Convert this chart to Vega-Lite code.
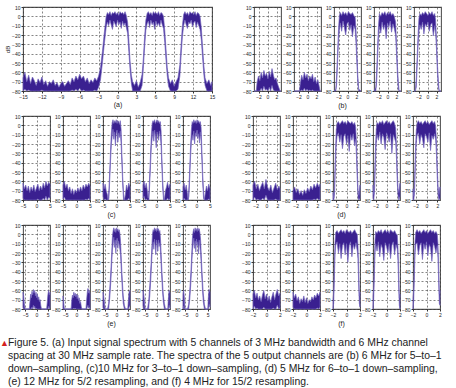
{
"$schema":"https://vega.github.io/schema/vega-lite/v6.json",
"padding":{"left":0,"top":4,"right":0,"bottom":0},
"background":"white",
"config":{
 "font":"Liberation Sans",
 "view":{"stroke":"#555","strokeWidth":1.1},
 "axis":{"labelFontSize":5,"labelColor":"#222","tickSize":2,"tickColor":"#333","labelPadding":1,"domain":false,"grid":true,"gridColor":"#333","gridDash":[2,2],"gridWidth":0.6,"labelOverlap":false,"labelFlush":false,"titleFontWeight":"normal","titleColor":"#222"},
 "title":{"fontSize":7,"fontWeight":"normal","color":"#222","offset":2,"anchor":"middle"},
 "area":{"fill":"#3a2090","stroke":"#7465bd","strokeWidth":0.7}
},
"data":{"values":[
{"p":"a","x":-15,"hi":-66,"lo":-80},{"p":"a","x":-14.7,"hi":-60,"lo":-78},{"p":"a","x":-14.4,"hi":-70,"lo":-80},{"p":"a","x":-14.1,"hi":-63,"lo":-79},{"p":"a","x":-13.8,"hi":-72,"lo":-80},{"p":"a","x":-13.5,"hi":-65,"lo":-80},{"p":"a","x":-13.2,"hi":-69,"lo":-80},{"p":"a","x":-12.9,"hi":-74,"lo":-80},{"p":"a","x":-12.6,"hi":-67,"lo":-80},{"p":"a","x":-12.3,"hi":-71,"lo":-80},{"p":"a","x":-12,"hi":-65,"lo":-79},{"p":"a","x":-11.7,"hi":-73,"lo":-80},{"p":"a","x":-11.4,"hi":-69,"lo":-80},{"p":"a","x":-11.1,"hi":-75,"lo":-80},{"p":"a","x":-10.8,"hi":-70,"lo":-80},{"p":"a","x":-10.5,"hi":-72,"lo":-80},{"p":"a","x":-10.2,"hi":-68,"lo":-80},{"p":"a","x":-9.9,"hi":-74,"lo":-80},{"p":"a","x":-9.6,"hi":-71,"lo":-80},{"p":"a","x":-9.3,"hi":-76,"lo":-80},{"p":"a","x":-9,"hi":-72,"lo":-80},{"p":"a","x":-8.7,"hi":-70,"lo":-80},{"p":"a","x":-8.4,"hi":-75,"lo":-80},{"p":"a","x":-8.1,"hi":-72,"lo":-80},{"p":"a","x":-7.8,"hi":-69,"lo":-80},{"p":"a","x":-7.5,"hi":-73,"lo":-80},{"p":"a","x":-7.2,"hi":-66,"lo":-79},{"p":"a","x":-6.9,"hi":-70,"lo":-80},{"p":"a","x":-6.6,"hi":-64,"lo":-78},{"p":"a","x":-6.3,"hi":-68,"lo":-80},{"p":"a","x":-6,"hi":-62,"lo":-77},{"p":"a","x":-5.7,"hi":-67,"lo":-80},{"p":"a","x":-5.4,"hi":-64,"lo":-79},{"p":"a","x":-5.1,"hi":-70,"lo":-80},{"p":"a","x":-4.8,"hi":-66,"lo":-80},{"p":"a","x":-4.5,"hi":-72,"lo":-80},{"p":"a","x":-4.2,"hi":-68,"lo":-80},{"p":"a","x":-3.9,"hi":-71,"lo":-80},{"p":"a","x":-3.6,"hi":-66,"lo":-79},{"p":"a","x":-3.3,"hi":-69,"lo":-80},{"p":"a","x":-3,"hi":-64,"lo":-76},{"p":"a","x":-2.7,"hi":-55,"lo":-68},{"p":"a","x":-2.4,"hi":-38,"lo":-50},{"p":"a","x":-2.1,"hi":-18,"lo":-30},{"p":"a","x":-1.8,"hi":0,"lo":-12},{"p":"a","x":-1.6,"hi":4,"lo":-6},{"p":"a","x":-1.4,"hi":2,"lo":-10},{"p":"a","x":-1.2,"hi":5,"lo":-4},{"p":"a","x":-1,"hi":1,"lo":-9},{"p":"a","x":-0.8,"hi":4,"lo":-14},{"p":"a","x":-0.6,"hi":3,"lo":-5},{"p":"a","x":-0.4,"hi":5,"lo":-8},{"p":"a","x":-0.2,"hi":2,"lo":-11},{"p":"a","x":0,"hi":4,"lo":-4},{"p":"a","x":0.2,"hi":1,"lo":-9},{"p":"a","x":0.4,"hi":5,"lo":-6},{"p":"a","x":0.6,"hi":3,"lo":-13},{"p":"a","x":0.8,"hi":4,"lo":-5},{"p":"a","x":1,"hi":2,"lo":-10},{"p":"a","x":1.2,"hi":5,"lo":-7},{"p":"a","x":1.4,"hi":1,"lo":-12},{"p":"a","x":1.6,"hi":-6,"lo":-18},{"p":"a","x":1.8,"hi":-25,"lo":-38},{"p":"a","x":2,"hi":-48,"lo":-58},{"p":"a","x":2.2,"hi":-63,"lo":-72},{"p":"a","x":2.4,"hi":-70,"lo":-80},{"p":"a","x":2.7,"hi":-74,"lo":-80},{"p":"a","x":3,"hi":-69,"lo":-80},{"p":"a","x":3.3,"hi":-76,"lo":-80},{"p":"a","x":3.6,"hi":-71,"lo":-80},{"p":"a","x":3.9,"hi":-62,"lo":-74},{"p":"a","x":4.1,"hi":-45,"lo":-56},{"p":"a","x":4.3,"hi":-22,"lo":-34},{"p":"a","x":4.5,"hi":-4,"lo":-15},{"p":"a","x":4.7,"hi":3,"lo":-8},{"p":"a","x":4.9,"hi":5,"lo":-5},{"p":"a","x":5.1,"hi":2,"lo":-12},{"p":"a","x":5.3,"hi":4,"lo":-4},{"p":"a","x":5.5,"hi":1,"lo":-9},{"p":"a","x":5.7,"hi":5,"lo":-6},{"p":"a","x":5.9,"hi":3,"lo":-14},{"p":"a","x":6.1,"hi":4,"lo":-5},{"p":"a","x":6.3,"hi":2,"lo":-10},{"p":"a","x":6.5,"hi":5,"lo":-7},{"p":"a","x":6.7,"hi":1,"lo":-11},{"p":"a","x":6.9,"hi":4,"lo":-4},{"p":"a","x":7.1,"hi":3,"lo":-9},{"p":"a","x":7.3,"hi":0,"lo":-13},{"p":"a","x":7.5,"hi":-15,"lo":-28},{"p":"a","x":7.7,"hi":-35,"lo":-47},{"p":"a","x":7.9,"hi":-55,"lo":-64},{"p":"a","x":8.1,"hi":-66,"lo":-75},{"p":"a","x":8.4,"hi":-72,"lo":-80},{"p":"a","x":8.7,"hi":-68,"lo":-80},{"p":"a","x":9,"hi":-75,"lo":-80},{"p":"a","x":9.3,"hi":-70,"lo":-80},{"p":"a","x":9.6,"hi":-66,"lo":-78},{"p":"a","x":9.9,"hi":-52,"lo":-64},{"p":"a","x":10.1,"hi":-30,"lo":-42},{"p":"a","x":10.3,"hi":-10,"lo":-22},{"p":"a","x":10.5,"hi":2,"lo":-10},{"p":"a","x":10.7,"hi":5,"lo":-4},{"p":"a","x":10.9,"hi":2,"lo":-9},{"p":"a","x":11.1,"hi":4,"lo":-13},{"p":"a","x":11.3,"hi":1,"lo":-6},{"p":"a","x":11.5,"hi":5,"lo":-8},{"p":"a","x":11.7,"hi":3,"lo":-4},{"p":"a","x":11.9,"hi":4,"lo":-11},{"p":"a","x":12.1,"hi":2,"lo":-7},{"p":"a","x":12.3,"hi":5,"lo":-5},{"p":"a","x":12.5,"hi":1,"lo":-12},{"p":"a","x":12.7,"hi":4,"lo":-6},{"p":"a","x":12.9,"hi":3,"lo":-10},{"p":"a","x":13.1,"hi":0,"lo":-14},{"p":"a","x":13.3,"hi":-12,"lo":-25},{"p":"a","x":13.5,"hi":-32,"lo":-44},{"p":"a","x":13.7,"hi":-52,"lo":-62},{"p":"a","x":13.9,"hi":-66,"lo":-74},{"p":"a","x":14.2,"hi":-72,"lo":-80},{"p":"a","x":14.5,"hi":-68,"lo":-80},{"p":"a","x":14.8,"hi":-74,"lo":-80},{"p":"a","x":15,"hi":-70,"lo":-80},
{"p":"b1","x":-3,"hi":-80,"lo":-80},{"p":"b1","x":-2.5,"hi":-80,"lo":-80},{"p":"b1","x":-2.3,"hi":-70,"lo":-80},{"p":"b1","x":-2,"hi":-64,"lo":-80},{"p":"b1","x":-1.7,"hi":-69,"lo":-80},{"p":"b1","x":-1.4,"hi":-60,"lo":-77},{"p":"b1","x":-1.1,"hi":-66,"lo":-80},{"p":"b1","x":-0.8,"hi":-58,"lo":-75},{"p":"b1","x":-0.5,"hi":-64,"lo":-79},{"p":"b1","x":-0.2,"hi":-61,"lo":-78},{"p":"b1","x":0.1,"hi":-67,"lo":-80},{"p":"b1","x":0.4,"hi":-59,"lo":-76},{"p":"b1","x":0.7,"hi":-65,"lo":-80},{"p":"b1","x":1,"hi":-56,"lo":-74},{"p":"b1","x":1.3,"hi":-63,"lo":-79},{"p":"b1","x":1.6,"hi":-68,"lo":-80},{"p":"b1","x":1.9,"hi":-66,"lo":-80},{"p":"b1","x":2.2,"hi":-72,"lo":-80},{"p":"b1","x":2.5,"hi":-76,"lo":-80},{"p":"b1","x":2.8,"hi":-80,"lo":-80},{"p":"b1","x":3,"hi":-80,"lo":-80},
{"p":"b2","x":-3,"hi":-80,"lo":-80},{"p":"b2","x":-1.8,"hi":-80,"lo":-80},{"p":"b2","x":-1.6,"hi":-72,"lo":-80},{"p":"b2","x":-1.3,"hi":-63,"lo":-79},{"p":"b2","x":-1,"hi":-68,"lo":-80},{"p":"b2","x":-0.7,"hi":-60,"lo":-77},{"p":"b2","x":-0.4,"hi":-66,"lo":-80},{"p":"b2","x":-0.1,"hi":-62,"lo":-78},{"p":"b2","x":0.2,"hi":-69,"lo":-80},{"p":"b2","x":0.5,"hi":-64,"lo":-79},{"p":"b2","x":0.8,"hi":-67,"lo":-80},{"p":"b2","x":1.1,"hi":-62,"lo":-79},{"p":"b2","x":1.4,"hi":-70,"lo":-80},{"p":"b2","x":1.7,"hi":-65,"lo":-80},{"p":"b2","x":2,"hi":-72,"lo":-80},{"p":"b2","x":2.3,"hi":-68,"lo":-80},{"p":"b2","x":2.6,"hi":-75,"lo":-80},{"p":"b2","x":2.8,"hi":-80,"lo":-80},{"p":"b2","x":3,"hi":-80,"lo":-80},
{"p":"b3","x":-3,"hi":-80,"lo":-80},{"p":"b3","x":-2.6,"hi":-78,"lo":-80},{"p":"b3","x":-2.4,"hi":-62,"lo":-72},{"p":"b3","x":-2.2,"hi":-38,"lo":-48},{"p":"b3","x":-2,"hi":-14,"lo":-26},{"p":"b3","x":-1.8,"hi":1,"lo":-14},{"p":"b3","x":-1.6,"hi":4,"lo":-7},{"p":"b3","x":-1.3,"hi":1,"lo":-16},{"p":"b3","x":-1,"hi":5,"lo":-5},{"p":"b3","x":-0.7,"hi":2,"lo":-12},{"p":"b3","x":-0.4,"hi":4,"lo":-20},{"p":"b3","x":-0.1,"hi":1,"lo":-8},{"p":"b3","x":0.2,"hi":5,"lo":-6},{"p":"b3","x":0.5,"hi":3,"lo":-15},{"p":"b3","x":0.8,"hi":2,"lo":-9},{"p":"b3","x":1.1,"hi":4,"lo":-22},{"p":"b3","x":1.4,"hi":1,"lo":-10},{"p":"b3","x":1.7,"hi":-1,"lo":-14},{"p":"b3","x":1.9,"hi":-15,"lo":-30},{"p":"b3","x":2.1,"hi":-40,"lo":-52},{"p":"b3","x":2.3,"hi":-64,"lo":-72},{"p":"b3","x":2.5,"hi":-78,"lo":-80},{"p":"b3","x":3,"hi":-80,"lo":-80},
{"p":"b4","x":-3,"hi":-80,"lo":-80},{"p":"b4","x":-2.6,"hi":-76,"lo":-80},{"p":"b4","x":-2.4,"hi":-58,"lo":-70},{"p":"b4","x":-2.2,"hi":-32,"lo":-45},{"p":"b4","x":-2,"hi":-10,"lo":-22},{"p":"b4","x":-1.8,"hi":3,"lo":-11},{"p":"b4","x":-1.5,"hi":0,"lo":-18},{"p":"b4","x":-1.2,"hi":4,"lo":-6},{"p":"b4","x":-0.9,"hi":2,"lo":-14},{"p":"b4","x":-0.6,"hi":5,"lo":-9},{"p":"b4","x":-0.3,"hi":1,"lo":-24},{"p":"b4","x":0,"hi":4,"lo":-7},{"p":"b4","x":0.3,"hi":2,"lo":-12},{"p":"b4","x":0.6,"hi":5,"lo":-5},{"p":"b4","x":0.9,"hi":1,"lo":-17},{"p":"b4","x":1.2,"hi":3,"lo":-8},{"p":"b4","x":1.5,"hi":0,"lo":-13},{"p":"b4","x":1.8,"hi":-6,"lo":-20},{"p":"b4","x":2,"hi":-28,"lo":-40},{"p":"b4","x":2.2,"hi":-52,"lo":-62},{"p":"b4","x":2.4,"hi":-70,"lo":-78},{"p":"b4","x":2.6,"hi":-80,"lo":-80},{"p":"b4","x":3,"hi":-80,"lo":-80},
{"p":"b5","x":-3,"hi":-80,"lo":-80},{"p":"b5","x":-2.7,"hi":-80,"lo":-80},{"p":"b5","x":-2.5,"hi":-66,"lo":-76},{"p":"b5","x":-2.3,"hi":-44,"lo":-54},{"p":"b5","x":-2.1,"hi":-20,"lo":-32},{"p":"b5","x":-1.9,"hi":-2,"lo":-16},{"p":"b5","x":-1.7,"hi":3,"lo":-9},{"p":"b5","x":-1.4,"hi":1,"lo":-14},{"p":"b5","x":-1.1,"hi":4,"lo":-6},{"p":"b5","x":-0.8,"hi":2,"lo":-19},{"p":"b5","x":-0.5,"hi":5,"lo":-8},{"p":"b5","x":-0.2,"hi":3,"lo":-11},{"p":"b5","x":0.1,"hi":1,"lo":-6},{"p":"b5","x":0.4,"hi":4,"lo":-16},{"p":"b5","x":0.7,"hi":2,"lo":-9},{"p":"b5","x":1,"hi":5,"lo":-7},{"p":"b5","x":1.3,"hi":1,"lo":-21},{"p":"b5","x":1.6,"hi":3,"lo":-10},{"p":"b5","x":1.8,"hi":-4,"lo":-18},{"p":"b5","x":2,"hi":-24,"lo":-36},{"p":"b5","x":2.2,"hi":-50,"lo":-60},{"p":"b5","x":2.4,"hi":-68,"lo":-76},{"p":"b5","x":2.6,"hi":-80,"lo":-80},{"p":"b5","x":3,"hi":-80,"lo":-80},
{"p":"c1","x":-5,"hi":-62,"lo":-78},{"p":"c1","x":-4.5,"hi":-68,"lo":-80},{"p":"c1","x":-4,"hi":-64,"lo":-80},{"p":"c1","x":-3.5,"hi":-70,"lo":-80},{"p":"c1","x":-3,"hi":-65,"lo":-80},{"p":"c1","x":-2.5,"hi":-72,"lo":-80},{"p":"c1","x":-2,"hi":-66,"lo":-80},{"p":"c1","x":-1.5,"hi":-70,"lo":-80},{"p":"c1","x":-1,"hi":-64,"lo":-80},{"p":"c1","x":-0.5,"hi":-71,"lo":-80},{"p":"c1","x":0,"hi":-67,"lo":-80},{"p":"c1","x":0.5,"hi":-63,"lo":-79},{"p":"c1","x":1,"hi":-70,"lo":-80},{"p":"c1","x":1.5,"hi":-65,"lo":-80},{"p":"c1","x":2,"hi":-69,"lo":-80},{"p":"c1","x":2.5,"hi":-62,"lo":-78},{"p":"c1","x":3,"hi":-67,"lo":-80},{"p":"c1","x":3.5,"hi":-60,"lo":-76},{"p":"c1","x":4,"hi":-65,"lo":-80},{"p":"c1","x":4.5,"hi":-61,"lo":-77},{"p":"c1","x":5,"hi":-63,"lo":-78},
{"p":"c2","x":-5,"hi":-64,"lo":-79},{"p":"c2","x":-4.5,"hi":-60,"lo":-77},{"p":"c2","x":-4,"hi":-67,"lo":-80},{"p":"c2","x":-3.5,"hi":-63,"lo":-80},{"p":"c2","x":-3,"hi":-70,"lo":-80},{"p":"c2","x":-2.5,"hi":-66,"lo":-80},{"p":"c2","x":-2,"hi":-73,"lo":-80},{"p":"c2","x":-1.5,"hi":-68,"lo":-80},{"p":"c2","x":-1,"hi":-74,"lo":-80},{"p":"c2","x":-0.5,"hi":-69,"lo":-80},{"p":"c2","x":0,"hi":-72,"lo":-80},{"p":"c2","x":0.5,"hi":-67,"lo":-80},{"p":"c2","x":1,"hi":-71,"lo":-80},{"p":"c2","x":1.5,"hi":-66,"lo":-80},{"p":"c2","x":2,"hi":-70,"lo":-80},{"p":"c2","x":2.5,"hi":-64,"lo":-80},{"p":"c2","x":3,"hi":-68,"lo":-80},{"p":"c2","x":3.5,"hi":-63,"lo":-79},{"p":"c2","x":4,"hi":-66,"lo":-80},{"p":"c2","x":4.5,"hi":-62,"lo":-78},{"p":"c2","x":5,"hi":-65,"lo":-80},
{"p":"c3","x":-5,"hi":-62,"lo":-76},{"p":"c3","x":-4.6,"hi":-68,"lo":-80},{"p":"c3","x":-4.2,"hi":-63,"lo":-79},{"p":"c3","x":-3.8,"hi":-70,"lo":-80},{"p":"c3","x":-3.4,"hi":-74,"lo":-80},{"p":"c3","x":-3.1,"hi":-80,"lo":-80},{"p":"c3","x":-2.8,"hi":-68,"lo":-78},{"p":"c3","x":-2.5,"hi":-48,"lo":-58},{"p":"c3","x":-2.2,"hi":-26,"lo":-38},{"p":"c3","x":-1.9,"hi":-8,"lo":-20},{"p":"c3","x":-1.6,"hi":3,"lo":-12},{"p":"c3","x":-1.3,"hi":6,"lo":-4},{"p":"c3","x":-1,"hi":2,"lo":-15},{"p":"c3","x":-0.7,"hi":5,"lo":-7},{"p":"c3","x":-0.4,"hi":3,"lo":-22},{"p":"c3","x":-0.1,"hi":6,"lo":-9},{"p":"c3","x":0.2,"hi":2,"lo":-5},{"p":"c3","x":0.5,"hi":5,"lo":-18},{"p":"c3","x":0.8,"hi":4,"lo":-8},{"p":"c3","x":1.1,"hi":1,"lo":-13},{"p":"c3","x":1.4,"hi":5,"lo":-6},{"p":"c3","x":1.7,"hi":-4,"lo":-20},{"p":"c3","x":2,"hi":-30,"lo":-42},{"p":"c3","x":2.3,"hi":-55,"lo":-64},{"p":"c3","x":2.6,"hi":-72,"lo":-80},{"p":"c3","x":2.9,"hi":-80,"lo":-80},{"p":"c3","x":3.3,"hi":-74,"lo":-80},{"p":"c3","x":3.7,"hi":-64,"lo":-80},{"p":"c3","x":4.1,"hi":-69,"lo":-80},{"p":"c3","x":4.5,"hi":-62,"lo":-78},{"p":"c3","x":5,"hi":-66,"lo":-80},
{"p":"c4","x":-5,"hi":-64,"lo":-78},{"p":"c4","x":-4.6,"hi":-60,"lo":-76},{"p":"c4","x":-4.2,"hi":-67,"lo":-80},{"p":"c4","x":-3.8,"hi":-62,"lo":-79},{"p":"c4","x":-3.4,"hi":-70,"lo":-80},{"p":"c4","x":-3.1,"hi":-78,"lo":-80},{"p":"c4","x":-2.8,"hi":-70,"lo":-80},{"p":"c4","x":-2.5,"hi":-52,"lo":-62},{"p":"c4","x":-2.2,"hi":-30,"lo":-42},{"p":"c4","x":-1.9,"hi":-10,"lo":-22},{"p":"c4","x":-1.6,"hi":2,"lo":-14},{"p":"c4","x":-1.3,"hi":5,"lo":-6},{"p":"c4","x":-1,"hi":3,"lo":-17},{"p":"c4","x":-0.7,"hi":6,"lo":-5},{"p":"c4","x":-0.4,"hi":2,"lo":-12},{"p":"c4","x":-0.1,"hi":4,"lo":-24},{"p":"c4","x":0.2,"hi":6,"lo":-7},{"p":"c4","x":0.5,"hi":3,"lo":-10},{"p":"c4","x":0.8,"hi":5,"lo":-16},{"p":"c4","x":1.1,"hi":2,"lo":-6},{"p":"c4","x":1.4,"hi":4,"lo":-11},{"p":"c4","x":1.7,"hi":-6,"lo":-22},{"p":"c4","x":2,"hi":-34,"lo":-46},{"p":"c4","x":2.3,"hi":-58,"lo":-68},{"p":"c4","x":2.6,"hi":-75,"lo":-80},{"p":"c4","x":2.9,"hi":-80,"lo":-80},{"p":"c4","x":3.3,"hi":-70,"lo":-80},{"p":"c4","x":3.7,"hi":-66,"lo":-80},{"p":"c4","x":4.1,"hi":-61,"lo":-78},{"p":"c4","x":4.5,"hi":-67,"lo":-80},{"p":"c4","x":5,"hi":-63,"lo":-79},
{"p":"c5","x":-5,"hi":-66,"lo":-80},{"p":"c5","x":-4.6,"hi":-62,"lo":-78},{"p":"c5","x":-4.2,"hi":-69,"lo":-80},{"p":"c5","x":-3.8,"hi":-64,"lo":-80},{"p":"c5","x":-3.4,"hi":-72,"lo":-80},{"p":"c5","x":-3.1,"hi":-80,"lo":-80},{"p":"c5","x":-2.8,"hi":-66,"lo":-76},{"p":"c5","x":-2.5,"hi":-45,"lo":-56},{"p":"c5","x":-2.2,"hi":-22,"lo":-34},{"p":"c5","x":-1.9,"hi":-5,"lo":-18},{"p":"c5","x":-1.6,"hi":4,"lo":-10},{"p":"c5","x":-1.3,"hi":2,"lo":-16},{"p":"c5","x":-1,"hi":6,"lo":-6},{"p":"c5","x":-0.7,"hi":3,"lo":-20},{"p":"c5","x":-0.4,"hi":5,"lo":-8},{"p":"c5","x":-0.1,"hi":2,"lo":-12},{"p":"c5","x":0.2,"hi":6,"lo":-5},{"p":"c5","x":0.5,"hi":3,"lo":-14},{"p":"c5","x":0.8,"hi":5,"lo":-9},{"p":"c5","x":1.1,"hi":2,"lo":-19},{"p":"c5","x":1.4,"hi":4,"lo":-7},{"p":"c5","x":1.7,"hi":-2,"lo":-17},{"p":"c5","x":2,"hi":-26,"lo":-38},{"p":"c5","x":2.3,"hi":-52,"lo":-62},{"p":"c5","x":2.6,"hi":-70,"lo":-78},{"p":"c5","x":2.9,"hi":-80,"lo":-80},{"p":"c5","x":3.3,"hi":-72,"lo":-80},{"p":"c5","x":3.7,"hi":-65,"lo":-80},{"p":"c5","x":4.1,"hi":-70,"lo":-80},{"p":"c5","x":4.5,"hi":-63,"lo":-79},{"p":"c5","x":5,"hi":-68,"lo":-80},
{"p":"d1","x":-2.5,"hi":-64,"lo":-80},{"p":"d1","x":-2.2,"hi":-60,"lo":-77},{"p":"d1","x":-1.9,"hi":-68,"lo":-80},{"p":"d1","x":-1.6,"hi":-63,"lo":-79},{"p":"d1","x":-1.3,"hi":-70,"lo":-80},{"p":"d1","x":-1,"hi":-65,"lo":-80},{"p":"d1","x":-0.7,"hi":-61,"lo":-78},{"p":"d1","x":-0.4,"hi":-68,"lo":-80},{"p":"d1","x":-0.1,"hi":-58,"lo":-75},{"p":"d1","x":0.2,"hi":-66,"lo":-80},{"p":"d1","x":0.5,"hi":-70,"lo":-80},{"p":"d1","x":0.8,"hi":-64,"lo":-80},{"p":"d1","x":1.1,"hi":-72,"lo":-80},{"p":"d1","x":1.4,"hi":-67,"lo":-80},{"p":"d1","x":1.7,"hi":-62,"lo":-79},{"p":"d1","x":2,"hi":-69,"lo":-80},{"p":"d1","x":2.3,"hi":-65,"lo":-80},{"p":"d1","x":2.5,"hi":-68,"lo":-80},
{"p":"d2","x":-2.5,"hi":-70,"lo":-80},{"p":"d2","x":-2.2,"hi":-66,"lo":-80},{"p":"d2","x":-1.9,"hi":-72,"lo":-80},{"p":"d2","x":-1.6,"hi":-68,"lo":-80},{"p":"d2","x":-1.3,"hi":-74,"lo":-80},{"p":"d2","x":-1,"hi":-70,"lo":-80},{"p":"d2","x":-0.7,"hi":-75,"lo":-80},{"p":"d2","x":-0.4,"hi":-69,"lo":-80},{"p":"d2","x":-0.1,"hi":-73,"lo":-80},{"p":"d2","x":0.2,"hi":-67,"lo":-80},{"p":"d2","x":0.5,"hi":-71,"lo":-80},{"p":"d2","x":0.8,"hi":-65,"lo":-80},{"p":"d2","x":1.1,"hi":-69,"lo":-80},{"p":"d2","x":1.4,"hi":-63,"lo":-79},{"p":"d2","x":1.7,"hi":-67,"lo":-80},{"p":"d2","x":2,"hi":-62,"lo":-78},{"p":"d2","x":2.3,"hi":-66,"lo":-80},{"p":"d2","x":2.5,"hi":-63,"lo":-79},
{"p":"d3","x":-2.5,"hi":-72,"lo":-80},{"p":"d3","x":-2.35,"hi":-78,"lo":-80},{"p":"d3","x":-2.2,"hi":-60,"lo":-72},{"p":"d3","x":-2.05,"hi":-30,"lo":-42},{"p":"d3","x":-1.9,"hi":-5,"lo":-20},{"p":"d3","x":-1.75,"hi":2,"lo":-12},{"p":"d3","x":-1.5,"hi":4,"lo":-8},{"p":"d3","x":-1.25,"hi":1,"lo":-18},{"p":"d3","x":-1,"hi":3,"lo":-10},{"p":"d3","x":-0.75,"hi":5,"lo":-25},{"p":"d3","x":-0.5,"hi":2,"lo":-12},{"p":"d3","x":-0.25,"hi":4,"lo":-9},{"p":"d3","x":0,"hi":1,"lo":-20},{"p":"d3","x":0.25,"hi":5,"lo":-11},{"p":"d3","x":0.5,"hi":3,"lo":-28},{"p":"d3","x":0.75,"hi":2,"lo":-10},{"p":"d3","x":1,"hi":4,"lo":-16},{"p":"d3","x":1.25,"hi":1,"lo":-9},{"p":"d3","x":1.5,"hi":3,"lo":-22},{"p":"d3","x":1.7,"hi":-2,"lo":-15},{"p":"d3","x":1.85,"hi":-20,"lo":-34},{"p":"d3","x":2,"hi":-48,"lo":-60},{"p":"d3","x":2.15,"hi":-70,"lo":-78},{"p":"d3","x":2.3,"hi":-75,"lo":-80},{"p":"d3","x":2.5,"hi":-64,"lo":-78},
{"p":"d4","x":-2.5,"hi":-64,"lo":-78},{"p":"d4","x":-2.35,"hi":-74,"lo":-80},{"p":"d4","x":-2.2,"hi":-55,"lo":-68},{"p":"d4","x":-2.05,"hi":-26,"lo":-40},{"p":"d4","x":-1.9,"hi":-4,"lo":-18},{"p":"d4","x":-1.75,"hi":3,"lo":-10},{"p":"d4","x":-1.5,"hi":1,"lo":-16},{"p":"d4","x":-1.25,"hi":4,"lo":-7},{"p":"d4","x":-1,"hi":2,"lo":-20},{"p":"d4","x":-0.75,"hi":5,"lo":-9},{"p":"d4","x":-0.5,"hi":1,"lo":-13},{"p":"d4","x":-0.25,"hi":3,"lo":-26},{"p":"d4","x":0,"hi":5,"lo":-8},{"p":"d4","x":0.25,"hi":2,"lo":-12},{"p":"d4","x":0.5,"hi":4,"lo":-18},{"p":"d4","x":0.75,"hi":1,"lo":-9},{"p":"d4","x":1,"hi":3,"lo":-30},{"p":"d4","x":1.25,"hi":5,"lo":-10},{"p":"d4","x":1.5,"hi":2,"lo":-14},{"p":"d4","x":1.7,"hi":-3,"lo":-18},{"p":"d4","x":1.85,"hi":-22,"lo":-36},{"p":"d4","x":2,"hi":-50,"lo":-62},{"p":"d4","x":2.15,"hi":-68,"lo":-76},{"p":"d4","x":2.3,"hi":-72,"lo":-80},{"p":"d4","x":2.5,"hi":-62,"lo":-76},
{"p":"d5","x":-2.5,"hi":-68,"lo":-80},{"p":"d5","x":-2.35,"hi":-76,"lo":-80},{"p":"d5","x":-2.2,"hi":-58,"lo":-70},{"p":"d5","x":-2.05,"hi":-28,"lo":-40},{"p":"d5","x":-1.9,"hi":-6,"lo":-19},{"p":"d5","x":-1.75,"hi":2,"lo":-11},{"p":"d5","x":-1.5,"hi":5,"lo":-8},{"p":"d5","x":-1.25,"hi":2,"lo":-20},{"p":"d5","x":-1,"hi":4,"lo":-10},{"p":"d5","x":-0.75,"hi":1,"lo":-14},{"p":"d5","x":-0.5,"hi":3,"lo":-24},{"p":"d5","x":-0.25,"hi":5,"lo":-9},{"p":"d5","x":0,"hi":2,"lo":-12},{"p":"d5","x":0.25,"hi":4,"lo":-18},{"p":"d5","x":0.5,"hi":1,"lo":-8},{"p":"d5","x":0.75,"hi":3,"lo":-27},{"p":"d5","x":1,"hi":5,"lo":-11},{"p":"d5","x":1.25,"hi":2,"lo":-15},{"p":"d5","x":1.5,"hi":4,"lo":-9},{"p":"d5","x":1.7,"hi":-1,"lo":-16},{"p":"d5","x":1.85,"hi":-18,"lo":-32},{"p":"d5","x":2,"hi":-46,"lo":-58},{"p":"d5","x":2.15,"hi":-66,"lo":-75},{"p":"d5","x":2.3,"hi":-74,"lo":-80},{"p":"d5","x":2.5,"hi":-66,"lo":-78},
{"p":"e1","x":-6,"hi":-62,"lo":-78},{"p":"e1","x":-5.7,"hi":-66,"lo":-80},{"p":"e1","x":-5.4,"hi":-74,"lo":-80},{"p":"e1","x":-5.1,"hi":-80,"lo":-80},{"p":"e1","x":-3.2,"hi":-80,"lo":-80},{"p":"e1","x":-2.9,"hi":-72,"lo":-80},{"p":"e1","x":-2.6,"hi":-64,"lo":-80},{"p":"e1","x":-2.3,"hi":-68,"lo":-80},{"p":"e1","x":-2,"hi":-61,"lo":-78},{"p":"e1","x":-1.7,"hi":-65,"lo":-80},{"p":"e1","x":-1.4,"hi":-59,"lo":-76},{"p":"e1","x":-1.1,"hi":-63,"lo":-79},{"p":"e1","x":-0.8,"hi":-60,"lo":-77},{"p":"e1","x":-0.5,"hi":-66,"lo":-80},{"p":"e1","x":-0.2,"hi":-62,"lo":-79},{"p":"e1","x":0.1,"hi":-68,"lo":-80},{"p":"e1","x":0.4,"hi":-64,"lo":-80},{"p":"e1","x":0.7,"hi":-70,"lo":-80},{"p":"e1","x":1,"hi":-67,"lo":-80},{"p":"e1","x":1.3,"hi":-72,"lo":-80},{"p":"e1","x":1.6,"hi":-70,"lo":-80},{"p":"e1","x":1.9,"hi":-76,"lo":-80},{"p":"e1","x":2.2,"hi":-80,"lo":-80},{"p":"e1","x":4.5,"hi":-80,"lo":-80},{"p":"e1","x":4.8,"hi":-72,"lo":-80},{"p":"e1","x":5.1,"hi":-64,"lo":-80},{"p":"e1","x":5.4,"hi":-60,"lo":-77},{"p":"e1","x":5.7,"hi":-65,"lo":-80},{"p":"e1","x":6,"hi":-62,"lo":-78},
{"p":"e2","x":-6,"hi":-66,"lo":-80},{"p":"e2","x":-5.7,"hi":-72,"lo":-80},{"p":"e2","x":-5.4,"hi":-80,"lo":-80},{"p":"e2","x":-2.4,"hi":-80,"lo":-80},{"p":"e2","x":-2.1,"hi":-70,"lo":-80},{"p":"e2","x":-1.8,"hi":-65,"lo":-80},{"p":"e2","x":-1.5,"hi":-68,"lo":-80},{"p":"e2","x":-1.2,"hi":-62,"lo":-79},{"p":"e2","x":-0.9,"hi":-66,"lo":-80},{"p":"e2","x":-0.6,"hi":-63,"lo":-79},{"p":"e2","x":-0.3,"hi":-67,"lo":-80},{"p":"e2","x":0,"hi":-64,"lo":-80},{"p":"e2","x":0.3,"hi":-69,"lo":-80},{"p":"e2","x":0.6,"hi":-65,"lo":-80},{"p":"e2","x":0.9,"hi":-71,"lo":-80},{"p":"e2","x":1.2,"hi":-68,"lo":-80},{"p":"e2","x":1.5,"hi":-74,"lo":-80},{"p":"e2","x":1.8,"hi":-72,"lo":-80},{"p":"e2","x":2.1,"hi":-77,"lo":-80},{"p":"e2","x":2.4,"hi":-80,"lo":-80},{"p":"e2","x":4.2,"hi":-80,"lo":-80},{"p":"e2","x":4.5,"hi":-70,"lo":-80},{"p":"e2","x":4.8,"hi":-62,"lo":-78},{"p":"e2","x":5.1,"hi":-58,"lo":-76},{"p":"e2","x":5.4,"hi":-63,"lo":-79},{"p":"e2","x":5.7,"hi":-60,"lo":-78},{"p":"e2","x":6,"hi":-64,"lo":-80},
{"p":"e3","x":-6,"hi":-62,"lo":-78},{"p":"e3","x":-5.7,"hi":-66,"lo":-80},{"p":"e3","x":-5.4,"hi":-72,"lo":-80},{"p":"e3","x":-5.1,"hi":-80,"lo":-80},{"p":"e3","x":-4,"hi":-80,"lo":-80},{"p":"e3","x":-3.5,"hi":-74,"lo":-80},{"p":"e3","x":-3,"hi":-58,"lo":-68},{"p":"e3","x":-2.5,"hi":-38,"lo":-50},{"p":"e3","x":-2.1,"hi":-18,"lo":-30},{"p":"e3","x":-1.8,"hi":-2,"lo":-16},{"p":"e3","x":-1.5,"hi":4,"lo":-10},{"p":"e3","x":-1.2,"hi":7,"lo":-3},{"p":"e3","x":-0.9,"hi":3,"lo":-14},{"p":"e3","x":-0.6,"hi":6,"lo":-6},{"p":"e3","x":-0.3,"hi":2,"lo":-20},{"p":"e3","x":0,"hi":7,"lo":-8},{"p":"e3","x":0.3,"hi":4,"lo":-4},{"p":"e3","x":0.6,"hi":6,"lo":-15},{"p":"e3","x":0.9,"hi":3,"lo":-7},{"p":"e3","x":1.2,"hi":5,"lo":-11},{"p":"e3","x":1.5,"hi":1,"lo":-16},{"p":"e3","x":1.8,"hi":-8,"lo":-22},{"p":"e3","x":2.2,"hi":-30,"lo":-42},{"p":"e3","x":2.6,"hi":-50,"lo":-60},{"p":"e3","x":3,"hi":-66,"lo":-74},{"p":"e3","x":3.5,"hi":-76,"lo":-80},{"p":"e3","x":4,"hi":-80,"lo":-80},{"p":"e3","x":5,"hi":-80,"lo":-80},{"p":"e3","x":5.3,"hi":-70,"lo":-80},{"p":"e3","x":5.6,"hi":-62,"lo":-78},{"p":"e3","x":6,"hi":-60,"lo":-76},
{"p":"e4","x":-6,"hi":-60,"lo":-76},{"p":"e4","x":-5.7,"hi":-64,"lo":-80},{"p":"e4","x":-5.4,"hi":-70,"lo":-80},{"p":"e4","x":-5.1,"hi":-80,"lo":-80},{"p":"e4","x":-4,"hi":-80,"lo":-80},{"p":"e4","x":-3.5,"hi":-72,"lo":-80},{"p":"e4","x":-3,"hi":-55,"lo":-66},{"p":"e4","x":-2.5,"hi":-35,"lo":-47},{"p":"e4","x":-2.1,"hi":-15,"lo":-27},{"p":"e4","x":-1.8,"hi":0,"lo":-14},{"p":"e4","x":-1.5,"hi":5,"lo":-8},{"p":"e4","x":-1.2,"hi":3,"lo":-16},{"p":"e4","x":-0.9,"hi":7,"lo":-5},{"p":"e4","x":-0.6,"hi":4,"lo":-12},{"p":"e4","x":-0.3,"hi":6,"lo":-22},{"p":"e4","x":0,"hi":3,"lo":-6},{"p":"e4","x":0.3,"hi":7,"lo":-10},{"p":"e4","x":0.6,"hi":4,"lo":-18},{"p":"e4","x":0.9,"hi":6,"lo":-6},{"p":"e4","x":1.2,"hi":2,"lo":-13},{"p":"e4","x":1.5,"hi":4,"lo":-9},{"p":"e4","x":1.8,"hi":-6,"lo":-20},{"p":"e4","x":2.2,"hi":-28,"lo":-40},{"p":"e4","x":2.6,"hi":-48,"lo":-58},{"p":"e4","x":3,"hi":-64,"lo":-72},{"p":"e4","x":3.5,"hi":-74,"lo":-80},{"p":"e4","x":4,"hi":-80,"lo":-80},{"p":"e4","x":5,"hi":-80,"lo":-80},{"p":"e4","x":5.3,"hi":-68,"lo":-80},{"p":"e4","x":5.6,"hi":-60,"lo":-76},{"p":"e4","x":6,"hi":-63,"lo":-79},
{"p":"e5","x":-6,"hi":-64,"lo":-80},{"p":"e5","x":-5.7,"hi":-60,"lo":-77},{"p":"e5","x":-5.4,"hi":-68,"lo":-80},{"p":"e5","x":-5.1,"hi":-80,"lo":-80},{"p":"e5","x":-4,"hi":-80,"lo":-80},{"p":"e5","x":-3.5,"hi":-75,"lo":-80},{"p":"e5","x":-3,"hi":-60,"lo":-70},{"p":"e5","x":-2.5,"hi":-40,"lo":-52},{"p":"e5","x":-2.1,"hi":-20,"lo":-32},{"p":"e5","x":-1.8,"hi":-3,"lo":-17},{"p":"e5","x":-1.5,"hi":3,"lo":-11},{"p":"e5","x":-1.2,"hi":6,"lo":-4},{"p":"e5","x":-0.9,"hi":2,"lo":-15},{"p":"e5","x":-0.6,"hi":7,"lo":-7},{"p":"e5","x":-0.3,"hi":4,"lo":-19},{"p":"e5","x":0,"hi":6,"lo":-5},{"p":"e5","x":0.3,"hi":3,"lo":-12},{"p":"e5","x":0.6,"hi":7,"lo":-8},{"p":"e5","x":0.9,"hi":4,"lo":-21},{"p":"e5","x":1.2,"hi":6,"lo":-6},{"p":"e5","x":1.5,"hi":2,"lo":-13},{"p":"e5","x":1.8,"hi":-5,"lo":-19},{"p":"e5","x":2.2,"hi":-26,"lo":-38},{"p":"e5","x":2.6,"hi":-47,"lo":-57},{"p":"e5","x":3,"hi":-63,"lo":-72},{"p":"e5","x":3.5,"hi":-75,"lo":-80},{"p":"e5","x":4,"hi":-80,"lo":-80},{"p":"e5","x":5,"hi":-80,"lo":-80},{"p":"e5","x":5.3,"hi":-66,"lo":-80},{"p":"e5","x":5.6,"hi":-59,"lo":-75},{"p":"e5","x":6,"hi":-62,"lo":-78},
{"p":"f1","x":-2,"hi":-64,"lo":-80},{"p":"f1","x":-1.8,"hi":-60,"lo":-77},{"p":"f1","x":-1.6,"hi":-68,"lo":-80},{"p":"f1","x":-1.4,"hi":-63,"lo":-79},{"p":"f1","x":-1.2,"hi":-70,"lo":-80},{"p":"f1","x":-1,"hi":-66,"lo":-80},{"p":"f1","x":-0.8,"hi":-72,"lo":-80},{"p":"f1","x":-0.6,"hi":-65,"lo":-80},{"p":"f1","x":-0.4,"hi":-60,"lo":-78},{"p":"f1","x":-0.2,"hi":-69,"lo":-80},{"p":"f1","x":0,"hi":-64,"lo":-80},{"p":"f1","x":0.2,"hi":-71,"lo":-80},{"p":"f1","x":0.4,"hi":-66,"lo":-80},{"p":"f1","x":0.6,"hi":-73,"lo":-80},{"p":"f1","x":0.8,"hi":-67,"lo":-80},{"p":"f1","x":1,"hi":-62,"lo":-79},{"p":"f1","x":1.2,"hi":-70,"lo":-80},{"p":"f1","x":1.4,"hi":-64,"lo":-80},{"p":"f1","x":1.6,"hi":-59,"lo":-76},{"p":"f1","x":1.8,"hi":-66,"lo":-80},{"p":"f1","x":2,"hi":-63,"lo":-79},
{"p":"f2","x":-2,"hi":-62,"lo":-78},{"p":"f2","x":-1.8,"hi":-68,"lo":-80},{"p":"f2","x":-1.6,"hi":-64,"lo":-80},{"p":"f2","x":-1.4,"hi":-71,"lo":-80},{"p":"f2","x":-1.2,"hi":-67,"lo":-80},{"p":"f2","x":-1,"hi":-74,"lo":-80},{"p":"f2","x":-0.8,"hi":-69,"lo":-80},{"p":"f2","x":-0.6,"hi":-72,"lo":-80},{"p":"f2","x":-0.4,"hi":-66,"lo":-80},{"p":"f2","x":-0.2,"hi":-73,"lo":-80},{"p":"f2","x":0,"hi":-68,"lo":-80},{"p":"f2","x":0.2,"hi":-74,"lo":-80},{"p":"f2","x":0.4,"hi":-70,"lo":-80},{"p":"f2","x":0.6,"hi":-72,"lo":-80},{"p":"f2","x":0.8,"hi":-67,"lo":-80},{"p":"f2","x":1,"hi":-70,"lo":-80},{"p":"f2","x":1.2,"hi":-65,"lo":-80},{"p":"f2","x":1.4,"hi":-68,"lo":-80},{"p":"f2","x":1.6,"hi":-63,"lo":-79},{"p":"f2","x":1.8,"hi":-66,"lo":-80},{"p":"f2","x":2,"hi":-62,"lo":-78},
{"p":"f3","x":-2,"hi":-70,"lo":-80},{"p":"f3","x":-1.9,"hi":-62,"lo":-74},{"p":"f3","x":-1.8,"hi":-35,"lo":-48},{"p":"f3","x":-1.7,"hi":-8,"lo":-22},{"p":"f3","x":-1.6,"hi":2,"lo":-12},{"p":"f3","x":-1.4,"hi":4,"lo":-8},{"p":"f3","x":-1.2,"hi":1,"lo":-20},{"p":"f3","x":-1,"hi":3,"lo":-10},{"p":"f3","x":-0.8,"hi":5,"lo":-26},{"p":"f3","x":-0.6,"hi":2,"lo":-12},{"p":"f3","x":-0.4,"hi":4,"lo":-9},{"p":"f3","x":-0.2,"hi":1,"lo":-22},{"p":"f3","x":0,"hi":5,"lo":-10},{"p":"f3","x":0.2,"hi":3,"lo":-30},{"p":"f3","x":0.4,"hi":2,"lo":-12},{"p":"f3","x":0.6,"hi":4,"lo":-8},{"p":"f3","x":0.8,"hi":1,"lo":-24},{"p":"f3","x":1,"hi":3,"lo":-11},{"p":"f3","x":1.2,"hi":5,"lo":-16},{"p":"f3","x":1.4,"hi":2,"lo":-9},{"p":"f3","x":1.6,"hi":0,"lo":-18},{"p":"f3","x":1.7,"hi":-12,"lo":-26},{"p":"f3","x":1.8,"hi":-40,"lo":-52},{"p":"f3","x":1.9,"hi":-66,"lo":-74},{"p":"f3","x":2,"hi":-62,"lo":-78},
{"p":"f4","x":-2,"hi":-66,"lo":-80},{"p":"f4","x":-1.9,"hi":-58,"lo":-70},{"p":"f4","x":-1.8,"hi":-32,"lo":-45},{"p":"f4","x":-1.7,"hi":-6,"lo":-20},{"p":"f4","x":-1.6,"hi":3,"lo":-10},{"p":"f4","x":-1.4,"hi":1,"lo":-18},{"p":"f4","x":-1.2,"hi":4,"lo":-8},{"p":"f4","x":-1,"hi":2,"lo":-24},{"p":"f4","x":-0.8,"hi":5,"lo":-11},{"p":"f4","x":-0.6,"hi":1,"lo":-15},{"p":"f4","x":-0.4,"hi":3,"lo":-28},{"p":"f4","x":-0.2,"hi":5,"lo":-9},{"p":"f4","x":0,"hi":2,"lo":-13},{"p":"f4","x":0.2,"hi":4,"lo":-20},{"p":"f4","x":0.4,"hi":1,"lo":-10},{"p":"f4","x":0.6,"hi":5,"lo":-26},{"p":"f4","x":0.8,"hi":3,"lo":-12},{"p":"f4","x":1,"hi":2,"lo":-8},{"p":"f4","x":1.2,"hi":4,"lo":-22},{"p":"f4","x":1.4,"hi":1,"lo":-11},{"p":"f4","x":1.6,"hi":-1,"lo":-16},{"p":"f4","x":1.7,"hi":-14,"lo":-28},{"p":"f4","x":1.8,"hi":-42,"lo":-54},{"p":"f4","x":1.9,"hi":-68,"lo":-76},{"p":"f4","x":2,"hi":-64,"lo":-80},
{"p":"f5","x":-2,"hi":-68,"lo":-80},{"p":"f5","x":-1.9,"hi":-60,"lo":-72},{"p":"f5","x":-1.8,"hi":-34,"lo":-46},{"p":"f5","x":-1.7,"hi":-7,"lo":-21},{"p":"f5","x":-1.6,"hi":2,"lo":-11},{"p":"f5","x":-1.4,"hi":5,"lo":-9},{"p":"f5","x":-1.2,"hi":2,"lo":-22},{"p":"f5","x":-1,"hi":4,"lo":-12},{"p":"f5","x":-0.8,"hi":1,"lo":-9},{"p":"f5","x":-0.6,"hi":3,"lo":-27},{"p":"f5","x":-0.4,"hi":5,"lo":-10},{"p":"f5","x":-0.2,"hi":2,"lo":-16},{"p":"f5","x":0,"hi":4,"lo":-8},{"p":"f5","x":0.2,"hi":1,"lo":-23},{"p":"f5","x":0.4,"hi":3,"lo":-11},{"p":"f5","x":0.6,"hi":5,"lo":-14},{"p":"f5","x":0.8,"hi":2,"lo":-29},{"p":"f5","x":1,"hi":4,"lo":-9},{"p":"f5","x":1.2,"hi":1,"lo":-13},{"p":"f5","x":1.4,"hi":3,"lo":-20},{"p":"f5","x":1.6,"hi":0,"lo":-12},{"p":"f5","x":1.7,"hi":-10,"lo":-25},{"p":"f5","x":1.8,"hi":-38,"lo":-50},{"p":"f5","x":1.9,"hi":-64,"lo":-74},{"p":"f5","x":2,"hi":-60,"lo":-76}
]},
"vconcat":[
{"hconcat":[
 {"width":189,"height":84,"transform":[{"filter":"datum.p==='a'"}],"mark":"area","encoding":{"x":{"field":"x","type":"quantitative","title":"(a)","scale":{"domain":[-15,15],"nice":false,"zero":false},"axis":{"values":[-15,-12,-9,-6,-3,0,3,6,9,12,15],"titleFontSize":7,"titlePadding":1}},"y":{"field":"hi","type":"quantitative","title":"dB","scale":{"domain":[-80,10],"nice":false},"axis":{"values":[10,0,-10,-20,-30,-40,-50,-60,-70,-80],"titleFontSize":6,"titlePadding":1}},"y2":{"field":"lo"}}},
 {"hconcat":[
  {"width":27,"height":84,"transform":[{"filter":"datum.p==='b1'"}],"mark":"area","encoding":{"x":{"field":"x","type":"quantitative","title":null,"scale":{"domain":[-3,3],"nice":false,"zero":false},"axis":{"values":[-2,0,2]}},"y":{"field":"hi","type":"quantitative","title":null,"scale":{"domain":[-80,10],"nice":false},"axis":{"values":[10,0,-10,-20,-30,-40,-50,-60,-70,-80]}},"y2":{"field":"lo"}}},
  {"width":27,"height":84,"transform":[{"filter":"datum.p==='b2'"}],"mark":"area","encoding":{"x":{"field":"x","type":"quantitative","title":null,"scale":{"domain":[-3,3],"nice":false,"zero":false},"axis":{"values":[-2,0,2]}},"y":{"field":"hi","type":"quantitative","title":null,"scale":{"domain":[-80,10],"nice":false},"axis":{"values":[10,0,-10,-20,-30,-40,-50,-60,-70,-80]}},"y2":{"field":"lo"}}},
  {"width":27,"height":84,"transform":[{"filter":"datum.p==='b3'"}],"mark":"area","encoding":{"x":{"field":"x","type":"quantitative","title":null,"scale":{"domain":[-3,3],"nice":false,"zero":false},"axis":{"values":[-2,0,2]}},"y":{"field":"hi","type":"quantitative","title":null,"scale":{"domain":[-80,10],"nice":false},"axis":{"values":[10,0,-10,-20,-30,-40,-50,-60,-70,-80]}},"y2":{"field":"lo"}}},
  {"width":27,"height":84,"transform":[{"filter":"datum.p==='b4'"}],"mark":"area","encoding":{"x":{"field":"x","type":"quantitative","title":null,"scale":{"domain":[-3,3],"nice":false,"zero":false},"axis":{"values":[-2,0,2]}},"y":{"field":"hi","type":"quantitative","title":null,"scale":{"domain":[-80,10],"nice":false},"axis":{"values":[10,0,-10,-20,-30,-40,-50,-60,-70,-80]}},"y2":{"field":"lo"}}},
  {"width":27,"height":84,"transform":[{"filter":"datum.p==='b5'"}],"mark":"area","encoding":{"x":{"field":"x","type":"quantitative","title":null,"scale":{"domain":[-3,3],"nice":false,"zero":false},"axis":{"values":[-2,0,2]}},"y":{"field":"hi","type":"quantitative","title":null,"scale":{"domain":[-80,10],"nice":false},"axis":{"values":[10,0,-10,-20,-30,-40,-50,-60,-70,-80]}},"y2":{"field":"lo"}}}
 ],"spacing":13,"bounds":"flush","title":{"text":"(b)","orient":"bottom"}}
],"spacing":25},
{"hconcat":[
 {"hconcat":[
  {"width":27,"height":84,"transform":[{"filter":"datum.p==='c1'"}],"mark":"area","encoding":{"x":{"field":"x","type":"quantitative","title":null,"scale":{"domain":[-5,5],"nice":false,"zero":false},"axis":{"values":[-5,0,5]}},"y":{"field":"hi","type":"quantitative","title":null,"scale":{"domain":[-80,10],"nice":false},"axis":{"values":[10,0,-10,-20,-30,-40,-50,-60,-70,-80]}},"y2":{"field":"lo"}}},
  {"width":27,"height":84,"transform":[{"filter":"datum.p==='c2'"}],"mark":"area","encoding":{"x":{"field":"x","type":"quantitative","title":null,"scale":{"domain":[-5,5],"nice":false,"zero":false},"axis":{"values":[-5,0,5]}},"y":{"field":"hi","type":"quantitative","title":null,"scale":{"domain":[-80,10],"nice":false},"axis":{"values":[10,0,-10,-20,-30,-40,-50,-60,-70,-80]}},"y2":{"field":"lo"}}},
  {"width":27,"height":84,"transform":[{"filter":"datum.p==='c3'"}],"mark":"area","encoding":{"x":{"field":"x","type":"quantitative","title":null,"scale":{"domain":[-5,5],"nice":false,"zero":false},"axis":{"values":[-5,0,5]}},"y":{"field":"hi","type":"quantitative","title":null,"scale":{"domain":[-80,10],"nice":false},"axis":{"values":[10,0,-10,-20,-30,-40,-50,-60,-70,-80]}},"y2":{"field":"lo"}}},
  {"width":27,"height":84,"transform":[{"filter":"datum.p==='c4'"}],"mark":"area","encoding":{"x":{"field":"x","type":"quantitative","title":null,"scale":{"domain":[-5,5],"nice":false,"zero":false},"axis":{"values":[-5,0,5]}},"y":{"field":"hi","type":"quantitative","title":null,"scale":{"domain":[-80,10],"nice":false},"axis":{"values":[10,0,-10,-20,-30,-40,-50,-60,-70,-80]}},"y2":{"field":"lo"}}},
  {"width":27,"height":84,"transform":[{"filter":"datum.p==='c5'"}],"mark":"area","encoding":{"x":{"field":"x","type":"quantitative","title":null,"scale":{"domain":[-5,5],"nice":false,"zero":false},"axis":{"values":[-5,0,5]}},"y":{"field":"hi","type":"quantitative","title":null,"scale":{"domain":[-80,10],"nice":false},"axis":{"values":[10,0,-10,-20,-30,-40,-50,-60,-70,-80]}},"y2":{"field":"lo"}}}
 ],"spacing":13,"bounds":"flush","title":{"text":"(c)","orient":"bottom"}},
 {"hconcat":[
  {"width":27,"height":84,"transform":[{"filter":"datum.p==='d1'"}],"mark":"area","encoding":{"x":{"field":"x","type":"quantitative","title":null,"scale":{"domain":[-2.5,2.5],"nice":false,"zero":false},"axis":{"values":[-2,0,2]}},"y":{"field":"hi","type":"quantitative","title":null,"scale":{"domain":[-80,10],"nice":false},"axis":{"values":[10,0,-10,-20,-30,-40,-50,-60,-70,-80]}},"y2":{"field":"lo"}}},
  {"width":27,"height":84,"transform":[{"filter":"datum.p==='d2'"}],"mark":"area","encoding":{"x":{"field":"x","type":"quantitative","title":null,"scale":{"domain":[-2.5,2.5],"nice":false,"zero":false},"axis":{"values":[-2,0,2]}},"y":{"field":"hi","type":"quantitative","title":null,"scale":{"domain":[-80,10],"nice":false},"axis":{"values":[10,0,-10,-20,-30,-40,-50,-60,-70,-80]}},"y2":{"field":"lo"}}},
  {"width":27,"height":84,"transform":[{"filter":"datum.p==='d3'"}],"mark":"area","encoding":{"x":{"field":"x","type":"quantitative","title":null,"scale":{"domain":[-2.5,2.5],"nice":false,"zero":false},"axis":{"values":[-2,0,2]}},"y":{"field":"hi","type":"quantitative","title":null,"scale":{"domain":[-80,10],"nice":false},"axis":{"values":[10,0,-10,-20,-30,-40,-50,-60,-70,-80]}},"y2":{"field":"lo"}}},
  {"width":27,"height":84,"transform":[{"filter":"datum.p==='d4'"}],"mark":"area","encoding":{"x":{"field":"x","type":"quantitative","title":null,"scale":{"domain":[-2.5,2.5],"nice":false,"zero":false},"axis":{"values":[-2,0,2]}},"y":{"field":"hi","type":"quantitative","title":null,"scale":{"domain":[-80,10],"nice":false},"axis":{"values":[10,0,-10,-20,-30,-40,-50,-60,-70,-80]}},"y2":{"field":"lo"}}},
  {"width":27,"height":84,"transform":[{"filter":"datum.p==='d5'"}],"mark":"area","encoding":{"x":{"field":"x","type":"quantitative","title":null,"scale":{"domain":[-2.5,2.5],"nice":false,"zero":false},"axis":{"values":[-2,0,2]}},"y":{"field":"hi","type":"quantitative","title":null,"scale":{"domain":[-80,10],"nice":false},"axis":{"values":[10,0,-10,-20,-30,-40,-50,-60,-70,-80]}},"y2":{"field":"lo"}}}
 ],"spacing":13,"bounds":"flush","title":{"text":"(d)","orient":"bottom"}}
],"spacing":28},
{"hconcat":[
 {"hconcat":[
  {"width":27,"height":84,"transform":[{"filter":"datum.p==='e1'"}],"mark":"area","encoding":{"x":{"field":"x","type":"quantitative","title":null,"scale":{"domain":[-6,6],"nice":false,"zero":false},"axis":{"values":[-5,0,5]}},"y":{"field":"hi","type":"quantitative","title":null,"scale":{"domain":[-80,10],"nice":false},"axis":{"values":[10,0,-10,-20,-30,-40,-50,-60,-70,-80]}},"y2":{"field":"lo"}}},
  {"width":27,"height":84,"transform":[{"filter":"datum.p==='e2'"}],"mark":"area","encoding":{"x":{"field":"x","type":"quantitative","title":null,"scale":{"domain":[-6,6],"nice":false,"zero":false},"axis":{"values":[-5,0,5]}},"y":{"field":"hi","type":"quantitative","title":null,"scale":{"domain":[-80,10],"nice":false},"axis":{"values":[10,0,-10,-20,-30,-40,-50,-60,-70,-80]}},"y2":{"field":"lo"}}},
  {"width":27,"height":84,"transform":[{"filter":"datum.p==='e3'"}],"mark":"area","encoding":{"x":{"field":"x","type":"quantitative","title":null,"scale":{"domain":[-6,6],"nice":false,"zero":false},"axis":{"values":[-5,0,5]}},"y":{"field":"hi","type":"quantitative","title":null,"scale":{"domain":[-80,10],"nice":false},"axis":{"values":[10,0,-10,-20,-30,-40,-50,-60,-70,-80]}},"y2":{"field":"lo"}}},
  {"width":27,"height":84,"transform":[{"filter":"datum.p==='e4'"}],"mark":"area","encoding":{"x":{"field":"x","type":"quantitative","title":null,"scale":{"domain":[-6,6],"nice":false,"zero":false},"axis":{"values":[-5,0,5]}},"y":{"field":"hi","type":"quantitative","title":null,"scale":{"domain":[-80,10],"nice":false},"axis":{"values":[10,0,-10,-20,-30,-40,-50,-60,-70,-80]}},"y2":{"field":"lo"}}},
  {"width":27,"height":84,"transform":[{"filter":"datum.p==='e5'"}],"mark":"area","encoding":{"x":{"field":"x","type":"quantitative","title":null,"scale":{"domain":[-6,6],"nice":false,"zero":false},"axis":{"values":[-5,0,5]}},"y":{"field":"hi","type":"quantitative","title":null,"scale":{"domain":[-80,10],"nice":false},"axis":{"values":[10,0,-10,-20,-30,-40,-50,-60,-70,-80]}},"y2":{"field":"lo"}}}
 ],"spacing":13,"bounds":"flush","title":{"text":"(e)","orient":"bottom"}},
 {"hconcat":[
  {"width":27,"height":84,"transform":[{"filter":"datum.p==='f1'"}],"mark":"area","encoding":{"x":{"field":"x","type":"quantitative","title":null,"scale":{"domain":[-2,2],"nice":false,"zero":false},"axis":{"values":[-2,0,2]}},"y":{"field":"hi","type":"quantitative","title":null,"scale":{"domain":[-80,10],"nice":false},"axis":{"values":[10,0,-10,-20,-30,-40,-50,-60,-70,-80]}},"y2":{"field":"lo"}}},
  {"width":27,"height":84,"transform":[{"filter":"datum.p==='f2'"}],"mark":"area","encoding":{"x":{"field":"x","type":"quantitative","title":null,"scale":{"domain":[-2,2],"nice":false,"zero":false},"axis":{"values":[-2,0,2]}},"y":{"field":"hi","type":"quantitative","title":null,"scale":{"domain":[-80,10],"nice":false},"axis":{"values":[10,0,-10,-20,-30,-40,-50,-60,-70,-80]}},"y2":{"field":"lo"}}},
  {"width":27,"height":84,"transform":[{"filter":"datum.p==='f3'"}],"mark":"area","encoding":{"x":{"field":"x","type":"quantitative","title":null,"scale":{"domain":[-2,2],"nice":false,"zero":false},"axis":{"values":[-2,0,2]}},"y":{"field":"hi","type":"quantitative","title":null,"scale":{"domain":[-80,10],"nice":false},"axis":{"values":[10,0,-10,-20,-30,-40,-50,-60,-70,-80]}},"y2":{"field":"lo"}}},
  {"width":27,"height":84,"transform":[{"filter":"datum.p==='f4'"}],"mark":"area","encoding":{"x":{"field":"x","type":"quantitative","title":null,"scale":{"domain":[-2,2],"nice":false,"zero":false},"axis":{"values":[-2,0,2]}},"y":{"field":"hi","type":"quantitative","title":null,"scale":{"domain":[-80,10],"nice":false},"axis":{"values":[10,0,-10,-20,-30,-40,-50,-60,-70,-80]}},"y2":{"field":"lo"}}},
  {"width":27,"height":84,"transform":[{"filter":"datum.p==='f5'"}],"mark":"area","encoding":{"x":{"field":"x","type":"quantitative","title":null,"scale":{"domain":[-2,2],"nice":false,"zero":false},"axis":{"values":[-2,0,2]}},"y":{"field":"hi","type":"quantitative","title":null,"scale":{"domain":[-80,10],"nice":false},"axis":{"values":[10,0,-10,-20,-30,-40,-50,-60,-70,-80]}},"y2":{"field":"lo"}}}
 ],"spacing":13,"bounds":"flush","title":{"text":"(f)","orient":"bottom"}}
],"spacing":28},
{"width":420,"height":53,"view":{"stroke":null},
 "data":{"values":[
  {"line":1,"t":"Figure 5. (a) Input signal spectrum with 5 channels of 3 MHz bandwidth and 6 MHz channel"},
  {"line":2,"t":"spacing at 30 MHz sample rate. The spectra of the 5 output channels are (b) 6 MHz for 5–to–1"},
  {"line":3,"t":"down–sampling, (c)10 MHz for 3–to–1 down–sampling, (d) 5 MHz for 6–to–1 down–sampling,"},
  {"line":4,"t":"(e) 12 MHz for 5/2 resampling, and (f) 4 MHz for 15/2 resampling."}
 ]},
 "layer":[
  {"mark":{"type":"text","align":"left","baseline":"middle","fontSize":10.4,"font":"Liberation Sans","color":"#222","x":-15,"dy":5},"encoding":{"y":{"field":"line","type":"ordinal","axis":null},"text":{"field":"t"}}},
  {"transform":[{"filter":"datum.line===1"}],"mark":{"type":"text","align":"left","baseline":"middle","fontSize":9,"color":"#d42020","x":-23,"dy":5},"encoding":{"y":{"field":"line","type":"ordinal","axis":null},"text":{"value":"▲"}}}
 ]}
],"spacing":4
}
